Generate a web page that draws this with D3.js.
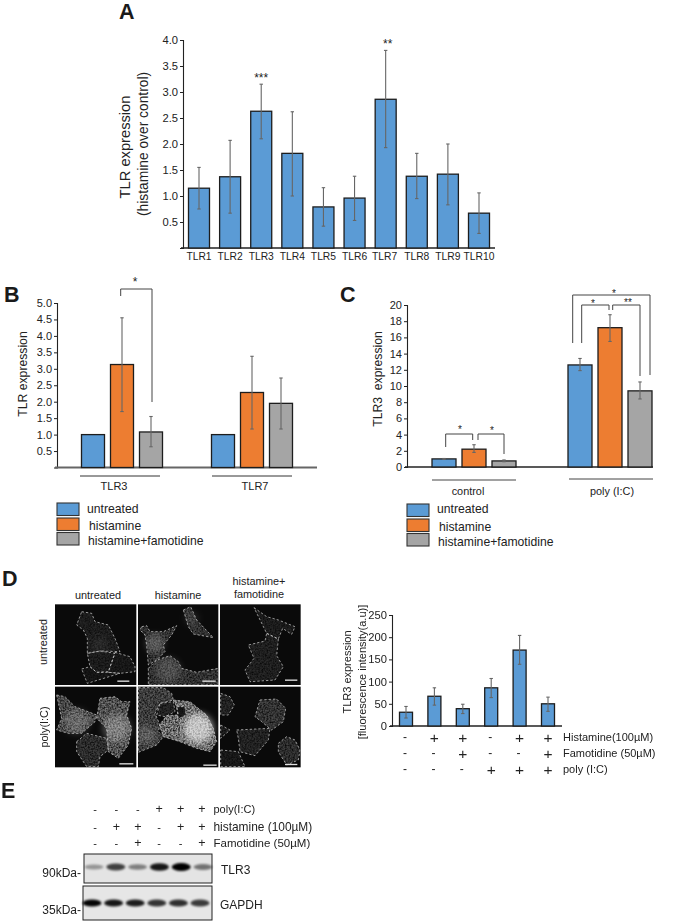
<!DOCTYPE html>
<html><head><meta charset="utf-8">
<script src="https://cdn.jsdelivr.net/npm/d3@7"></script>
<style>
html,body{margin:0;padding:0;background:#fff}
svg{display:block}
text{font-family:"Liberation Sans",Arial,sans-serif;fill:#222}
</style></head><body>
<svg id="fig" width="690" height="921" viewBox="0 0 690 921"></svg>
<script>
// ---------- data ----------
const aCategories = ["TLR1","TLR2","TLR3","TLR4","TLR5","TLR6","TLR7","TLR8","TLR9","TLR10"];
const aValues  = [1.15,1.37,2.63,1.82,0.79,0.96,2.86,1.38,1.42,0.67];
const aErrHigh = [1.55,2.07,3.15,2.62,1.16,1.38,3.80,1.82,2.00,1.06];
const aErrLow  = [0.75,0.67,2.10,1.00,0.42,0.53,1.93,0.95,0.83,0.28];
const aTicks   = [0.5,1,1.5,2,2.5,3,3.5,4];

const treatments = ["untreated","histamine","histamine+famotidine"];
const treatmentColors = ["#5b9bd5","#ed7d31","#a5a5a5"];

const bGroups  = ["TLR3","TLR7"];
const bValues  = [[1,3.13,1.08],[1,2.28,1.95]];
const bErrHigh = [[1,4.55,1.55],[1,3.38,2.72]];
const bErrLow  = [[1,1.70,0.63],[1,1.17,1.17]];
const bTicks   = [0.5,1,1.5,2,2.5,3,3.5,4,4.5,5];

const cGroups  = ["control","poly (I:C)"];
const cValues  = [[1.0,2.2,0.75],[12.6,17.2,9.4]];
const cErrHigh = [[1.05,2.75,0.87],[13.4,18.8,10.5]];
const cErrLow  = [[0.95,1.8,0.65],[11.9,15.5,8.4]];
const cTicks   = [0,2,4,6,8,10,12,14,16,18,20];

const dValues  = [31,67,39,86,171,50];
const dErrHigh = [44,86,49,107,204,65];
const dErrLow  = [18,47,28,64,139,33];
const dTicks   = [0,50,100,150,200,250];
const dConditions = ["a","b","c","d","e","f"];
const dHistamine  = ["-","+","+","-","+","+"];
const dFamotidine = ["-","-","+","-","-","+"];
const dPoly       = ["-","-","-","+","+","+"];

const ePoly       = ["-","-","-","+","+","+"];
const eHistamine  = ["-","+","+","-","+","+"];
const eFamotidine = ["-","-","+","-","-","+"];
const eTlr3Bands  = [0.35,0.72,0.45,0.9,1.0,0.5];
const eGapdhBands = [0.98,0.9,0.88,0.78,0.8,0.75];
const eLanes = ["1","2","3","4","5","6"];

// ---------- helpers ----------
const svg = d3.select("#fig");
const barStroke = "#1d1d1d", errColor = "#666";

function label(g, x, y, s, size, opt = {}) {
  const t = g.append("text").attr("x", x).attr("y", y).text(s)
    .attr("font-size", size).attr("dominant-baseline", "central")
    .attr("text-anchor", opt.anchor || "middle");
  if (opt.rotate) t.attr("transform", `rotate(-90 ${x} ${y})`);
  if (opt.bold) t.attr("font-weight", "bold");
  return t;
}
function panelLetter(s, x, y) { label(svg, x, y, s, 21.5, {bold:true, anchor:"start"}).style("fill", "#1a1a1a"); }

function yAxis(g, y, x0, ticks, fmt, size, x1, base = {}) {
  const ax = d3.axisLeft(y).tickValues(ticks).tickSize(3).tickPadding(2).tickFormat(fmt);
  const a = g.append("g").attr("transform", `translate(${x0},0)`).call(ax);
  a.selectAll("text").attr("font-size", size).style("fill", "#222").attr("font-family", null);
  a.selectAll("line").attr("stroke", "#222");
  a.select(".domain").attr("stroke", "#222").attr("stroke-width", 1.1);
  g.append("line").attr("x1", x0 - 2).attr("x2", x1)
    .attr("y1", y(0)).attr("y2", y(0)).attr("stroke", base.color || "#222").attr("stroke-width", base.width || 1.3);
}
function bar(g, cx, w, y, v, hi, lo, fill, sw = 1.3) {
  g.append("rect").attr("x", cx - w/2).attr("width", w)
    .attr("y", y(v)).attr("height", y(0) - y(v))
    .attr("fill", fill).attr("stroke", barStroke).attr("stroke-width", sw);
  if (hi !== lo) {
    g.append("line").attr("x1", cx).attr("x2", cx).attr("y1", y(hi)).attr("y2", y(lo))
      .attr("stroke", errColor).attr("stroke-width", 1.1);
    [hi, lo].forEach(e => g.append("line").attr("x1", cx - 1.7).attr("x2", cx + 1.7)
      .attr("y1", y(e)).attr("y2", y(e)).attr("stroke", errColor).attr("stroke-width", 1.1));
  }
}
function bracket(x1, y1, yTop, x2, y2) {
  svg.append("path").attr("d", `M${x1},${y1}V${yTop}H${x2}V${y2}`)
    .attr("fill", "none").attr("stroke", "#444").attr("stroke-width", 1);
}
function legend(x0, ys, textX, textY) {
  treatments.forEach((t, i) => {
    svg.append("rect").attr("x", x0).attr("y", ys[i]).attr("width", 22).attr("height", 12.5)
      .attr("fill", treatmentColors[i]).attr("stroke", "#333").attr("stroke-width", 1.1);
    label(svg, textX[i], textY[i], t, 12.2, {anchor:"start"});
  });
}

// ---------- panel A ----------
panelLetter("A", 119, 12);
{
  const g = svg.append("g");
  const y = d3.scaleLinear().domain([0,4]).range([248,40]);
  const x = d3.scalePoint().domain(aCategories).range([199,479]);
  yAxis(g, y, 183, aTicks, d3.format(".1f"), 11.2, 495);
  aCategories.forEach((c,i) => {
    bar(g, x(c), 21, y, aValues[i], aErrHigh[i], aErrLow[i], treatmentColors[0]);
    label(g, x(c) + (i===6?-1:0), 256, c, 10.3);
  });
  label(g, x("TLR3"), y(3.15) - 6.5, "***", 12);
  label(g, x("TLR7") + 2, y(3.8) - 6.5, "**", 12);
  label(g, 125, 147, "TLR expression", 14.7, {rotate:true});
  label(g, 143, 144, "(histamine over control)", 13.8, {rotate:true});
}

// ---------- panel B ----------
panelLetter("B", 4, 295);
function grouped(groups, vals, hi, lo, y, gx, sub, w) {
  const g = svg.append("g");
  groups.forEach((gr,i) => treatments.forEach((t,j) =>
    bar(g, gx(gr) + sub(t), w, y, vals[i][j], hi[i][j], lo[i][j], treatmentColors[j])));
  return g;
}
{
  const y = d3.scaleLinear().domain([0,5]).range([467.5,303]);
  const g0 = svg.append("g");
  yAxis(g0, y, 57, bTicks, d3.format(".1f"), 11, 317, {color:"#666", width:2});
  const gx = d3.scalePoint().domain(bGroups).range([122,252]);
  const sub = d3.scalePoint().domain(treatments).range([-29,29]);
  grouped(bGroups, bValues, bErrHigh, bErrLow, y, gx, sub, 23);
  label(svg, 23, 374, "TLR expression", 12.2, {rotate:true});
  [[80,160],[212,292]].forEach(([a,b]) => svg.append("line").attr("x1",a).attr("x2",b)
    .attr("y1",476).attr("y2",476).attr("stroke","#333").attr("stroke-width",1));
  label(svg, 114, 486, "TLR3", 11);
  label(svg, 255, 486, "TLR7", 11);
  bracket(120.7, 296, 289, 152, 402);
  label(svg, 135, 282, "*", 12);
  legend(57, [503,518,532.5], [87,89,88], [509,526,541]);
}

// ---------- panel C ----------
panelLetter("C", 340, 295);
{
  const y = d3.scaleLinear().domain([0,20]).range([467,305]);
  const g0 = svg.append("g");
  yAxis(g0, y, 407, cTicks, d3.format("d"), 11, 653);
  const gx = d3.scalePoint().domain(cGroups).range([474,610]);
  const sub = d3.scalePoint().domain(treatments).range([-30,30]);
  grouped(cGroups, cValues, cErrHigh, cErrLow, y, gx, sub, 24);
  label(svg, 378, 379, "TLR3  expression", 12.2, {rotate:true}).style("white-space","pre");
  svg.append("line").attr("x1",432).attr("x2",516).attr("y1",480).attr("y2",480).attr("stroke","#444");
  svg.append("line").attr("x1",569).attr("x2",653).attr("y1",479).attr("y2",479).attr("stroke","#444");
  label(svg, 468, 491, "control", 10.9);
  label(svg, 612, 491, "poly (I:C)", 10.9);
  bracket(445.7,447,434,472.7,440); bracket(478,440,434,504,454);
  bracket(572.7,343,295,650,375); bracket(581.7,343,305,609,310); bracket(612.7,310,305,640,376);
  label(svg, 460, 429, "*", 10); label(svg, 492, 430, "*", 10);
  label(svg, 614, 293, "*", 10); label(svg, 593, 303, "*", 10); label(svg, 628, 302, "**", 10);
  legend(407, [504,519,533.5], [437,439,438], [509,527,542]);
}

// ---------- panel D : micrographs (drawn in a 3x coordinate space) ----------
panelLetter("D", 2, 579);
const micrographFrames = [[165,118,244,242],[414,118,241,242],[660,118,242,242],
                          [165,365,244,242],[414,365,241,242],[660,365,242,242]];
const micrographCells = [
 [ ["M245,140L275,145L285,170L325,180L345,220L360,260L300,258L262,265L262,220L250,195L230,180Z",.15],
   ["M262,265L300,258L345,265L325,320L290,322L270,305Z",.14],
   ["M345,262L390,275L405,305L405,320L360,325L325,322Z",.12],
   ["M245,312L270,305L290,322L325,322L360,325L262,355Z",.1] ],
 [ ["M550,135L572,125L590,165L640,218L580,207L565,185Z",.27],
   ["M425,185L440,182L450,200L490,200L530,182L515,210L490,240L495,260L470,285L445,300L440,240L435,210L420,195Z",.27],
   ["M445,310L470,285L510,272L535,290L545,310L590,322L655,310L655,360L445,360Z",.27] ],
 [ ["M762,128L800,155L835,165L885,185L875,208L848,190L835,222L800,205Z",.14],
   ["M800,205L835,222L830,272L850,305L825,345L750,350L735,315L762,280L745,240L795,228Z",.16] ],
 [ ["M170,390L195,395L225,425L290,450L285,470L245,505L205,505L170,495L185,460Z",.4],
   ["M300,400L345,395L365,410L390,410L380,450L395,490L385,540L355,580L325,560L320,490L290,460Z",.46],
   ["M230,530L260,505L320,520L325,555L300,575L295,605L260,605L230,560Z",.24] ],
 [ ["M415,368L490,368L515,385L520,405L480,415L465,445L480,480L475,500L490,515L470,540L415,562Z",.34],
   ["M480,415L520,410L525,440L495,455L470,450Z",.18],
   ["M520,405L570,410L620,450L640,490L650,530L630,560L590,550L540,530L490,515L478,480L500,452L535,450L530,425Z",.62],
   ["M530,425L555,425L558,450L535,462Z",.12] ],
 [ ["M662,385L690,395L703,420L685,450L662,450Z",.18],
   ["M780,405L830,402L857,430L850,470L815,495L785,470L765,455Z",.28],
   ["M710,495L810,490L805,525L765,572L720,560L715,520Z",.18],
   ["M835,535L860,515L885,525L900,555L895,585L860,600L835,560Z",.24],
   ["M662,480L690,495L662,520Z",.14],
   ["M662,555L715,560L735,605L662,605Z",.12] ]
];
const micrographGlows = [[300,240,25,.1],[465,235,28,.35],[505,315,38,.25],[575,160,22,.15],[230,470,38,.3],[350,490,42,.45],[595,490,45,1],[440,510,28,.3]];
const scaleBars = [[352,348,36],[607,348,40],[855,345,37],[358,596,42],[610,600,40],[855,598,37]];
{
  const defs = svg.append("defs");
  const sp = defs.append("filter").attr("id","speckle").attr("x","-5%").attr("y","-5%").attr("width","110%").attr("height","110%")
    .attr("color-interpolation-filters","sRGB");
  sp.append("feTurbulence").attr("type","fractalNoise").attr("baseFrequency",.2).attr("numOctaves",2).attr("seed",4).attr("result","n");
  sp.append("feColorMatrix").attr("in","n").attr("type","matrix")
    .attr("values","0 0 0 0 1  0 0 0 0 1  0 0 0 0 1  2 0 0 0 -0.35").attr("result","m");
  sp.append("feComposite").attr("in","SourceGraphic").attr("in2","m").attr("operator","in").attr("result","c");
  sp.append("feGaussianBlur").attr("in","c").attr("stdDeviation",1.8);
  defs.append("filter").attr("id","soft").attr("x","-60%").attr("y","-60%").attr("width","220%").attr("height","220%")
    .append("feGaussianBlur").attr("stdDeviation",9);
  const g = svg.append("g").attr("transform","translate(0,565) scale(0.33333)");
  micrographFrames.forEach((f,i) => {
    defs.append("clipPath").attr("id","mc"+i).append("rect")
      .attr("x",f[0]).attr("y",f[1]).attr("width",f[2]).attr("height",f[3]);
    g.append("rect").attr("x",f[0]).attr("y",f[1]).attr("width",f[2]).attr("height",f[3]).attr("fill","#0a0a0a");
    const p = g.append("g").attr("clip-path",`url(#mc${i})`);
    const tex = p.append("g").attr("filter","url(#speckle)");
    micrographCells[i].forEach(([d,v]) => { const c = 255*v; tex.append("path").attr("d",d).attr("fill",d3.rgb(c,c,c).formatRgb()); });
    micrographCells[i].forEach(([d]) => p.append("path").attr("d",d).attr("fill","none")
      .attr("stroke","#c8c8c8").attr("stroke-width",2.2).attr("stroke-dasharray","7 6"));
  });
  const gl = g.append("g").style("mix-blend-mode","screen");
  micrographGlows.forEach(([x,y,r,o]) => gl.append("circle").attr("cx",x).attr("cy",y).attr("r",r)
    .attr("fill",`rgba(255,255,255,${o*0.6})`).attr("filter","url(#soft)"));
  scaleBars.forEach(([x,y,w]) => g.append("rect").attr("x",x).attr("y",y-1.5).attr("width",w).attr("height",4).attr("fill","#e0e0e0"));

  label(svg, 98, 595, "untreated", 10.9);
  label(svg, 178, 595, "histamine", 10.9);
  label(svg, 259, 581, "histamine+", 10.9);
  label(svg, 259, 594, "famotidine", 10.9);
  label(svg, 43, 642, "untreated", 10.9, {rotate:true});
  label(svg, 44, 727, "poly(I:C)", 10.9, {rotate:true});
}

// ---------- panel D : bars ----------
{
  const g = svg.append("g");
  const y = d3.scaleLinear().domain([0,250]).range([726,615]);
  const x = d3.scalePoint().domain(dConditions).range([406,548]);
  yAxis(g, y, 392, dTicks, d3.format("d"), 11.2, 562);
  dConditions.forEach((c,i) => bar(g, x(c), 13, y, dValues[i], dErrHigh[i], dErrLow[i], treatmentColors[0]));
  label(g, 347, 672, "TLR3 expression", 11, {rotate:true});
  label(g, 362, 672, "[fluorescence intensity(a.u)]", 11, {rotate:true});
  [[dHistamine,737,"Histamine(100µM)"],[dFamotidine,753,"Famotidine (50µM)"],[dPoly,769,"poly (I:C)"]].forEach(([row,yy,name]) => {
    row.forEach((s,i) => label(g, x(dConditions[i]) - (s==="-"?1:0), yy, s, s==="-"?12:15.5));
    label(g, 563, yy, name, 11, {anchor:"start"});
  });
}

// ---------- panel E ----------
panelLetter("E", 1, 791);
{
  const g = svg.append("g");
  const x = d3.scalePoint().domain(eLanes).range([95,202]);
  [[ePoly,809,"poly(I:C)",11],[eHistamine,827,"histamine (100µM)",11.9],[eFamotidine,843,"Famotidine (50µM)",11.5]].forEach(([row,yy,name,fs]) => {
    row.forEach((s,i) => label(g, x(eLanes[i]), yy, s, s==="-"?11:12.5));
    label(g, 213.5, yy, name, fs, {anchor:"start"});
  });
  const defs = svg.select("defs");
  defs.append("filter").attr("id","band").attr("x","-30%").attr("y","-100%").attr("width","160%").attr("height","300%")
    .append("feGaussianBlur").attr("stdDeviation",1.3);
  const lx1 = d3.scalePoint().domain(eLanes).range([94,203]);
  const lx2 = d3.scalePoint().domain(eLanes).range([92,200]);
  g.append("rect").attr("x",84).attr("y",854).attr("width",128).attr("height",29).attr("fill","#e4e4e4").attr("stroke","#222").attr("stroke-width",1);
  g.append("rect").attr("x",83).attr("y",886).attr("width",129).attr("height",34).attr("fill","#e6e6e6").attr("stroke","#222").attr("stroke-width",1);
  eLanes.forEach((l,i) => {
    const v1 = eTlr3Bands[i], v2 = eGapdhBands[i];
    g.append("ellipse").attr("cx",lx1(l)).attr("cy",867).attr("rx",9.5).attr("ry",1.8+2.2*v1)
      .attr("fill",`rgba(5,5,5,${v1})`).attr("filter","url(#band)");
    g.append("ellipse").attr("cx",lx2(l)).attr("cy",903).attr("rx",9.5).attr("ry",3.6)
      .attr("fill",`rgba(5,5,5,${v2})`).attr("filter","url(#band)");
  });
  label(g, 81, 873, "90kDa-", 12, {anchor:"end"});
  label(g, 81, 910, "35kDa-", 12, {anchor:"end"});
  label(g, 221, 870, "TLR3", 12, {anchor:"start"});
  label(g, 220, 905, "GAPDH", 12, {anchor:"start"});
}
</script>
</body></html>
